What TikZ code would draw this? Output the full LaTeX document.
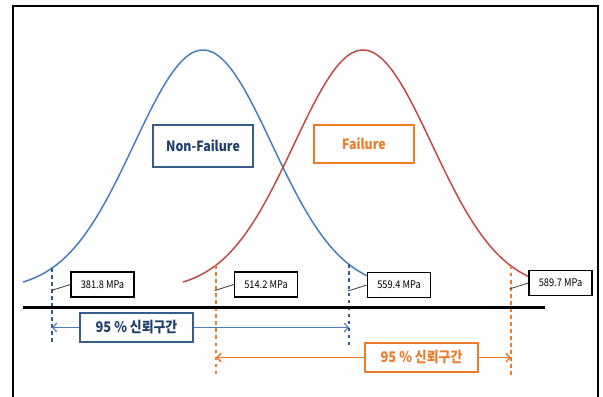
\documentclass[tikz,border=0pt]{standalone}
\usepackage{fontspec}
\setmainfont{Noto Sans CJK KR}[FakeStretch=0.88]
\usetikzlibrary{arrows.meta}
\definecolor{curveblue}{HTML}{4A7EBB}
\definecolor{curvered}{HTML}{BE4B48}
\definecolor{navy}{HTML}{1F3F6E}
\definecolor{boxblue}{HTML}{385D8A}
\definecolor{cutblue}{HTML}{2F5B96}
\definecolor{ciorange}{HTML}{EE7B2A}
% height of a bell curve with peak at #2, at position #1
\newcommand\bellat[2]{290-240*exp(-((#1-#2)/10)*((#1-#2)/10)/95.22)}

\begin{document}
\begin{tikzpicture}[x=0.3mm,y=-0.3mm,>={Straight Barb[length=1.2mm,width=2.6mm]},
  curve/.style={line width=0.45mm,smooth,samples=90},
  mpa/.style={draw,line width=0.4mm,fill=white,inner sep=0pt,
    minimum width=18.9mm,minimum height=7.5mm,font=\fontsize{9}{10}\selectfont},
  leader/.style={draw=black!75,line width=0.25mm},
  cut/.style={dashed,line width=0.4mm},
  title/.style={draw,line width=0.5mm,fill=white,minimum width=30mm,
    font=\bfseries\fontsize{12}{14}\selectfont},
  tag/.style={draw,line width=0.5mm,fill=white,minimum width=33.9mm,
    minimum height=8.7mm,font=\bfseries\fontsize{12.5}{14}\selectfont}]
\useasboundingbox (0,0) rectangle (603,397);
\draw[line width=0.7mm] (13,397) -- (13,6) -- (598,6) -- (598,397);

% the two bell curves
\draw[curve,curveblue,domain=-18:16.5] plot ({203+10*\x},{290-240*exp(-\x*\x/95.22)});
\draw[curve,curvered,domain=-18:16.6] plot ({363+10*\x},{290-240*exp(-\x*\x/95.22)});

\node[title,draw=boxblue,text=navy,minimum height=12.6mm] (nonfail) at (203,146) {Non-Failure};
\node[title,draw=ciorange,text=ciorange,minimum height=11.4mm] (fail) at (364,144) {Failure};

% bounds of the intervals
\coordinate (nL) at (52,{\bellat{52}{203}});
\coordinate (nR) at (349,{\bellat{349}{203}});
\coordinate (fL) at (216,{\bellat{216}{363}});
\coordinate (fR) at (511,{\bellat{511}{363}});
\coordinate (nLb) at (52,345);
\coordinate (nRb) at (349,345);
\coordinate (fLb) at (216,377);
\coordinate (fRb) at (511,377);
\draw[cut,cutblue] (nL) -- (nLb);
\draw[cut,cutblue] (nR) -- (nRb);
\draw[cut,ciorange] (fL) -- (fLb);
\draw[cut,ciorange] (fR) -- (fRb);

\node[mpa] (v1) at (102.5,284.5) {381.8 MPa};
\node[mpa] (v2) at (266,284.5) {514.2 MPa};
\node[mpa] (v3) at (399,285) {559.4 MPa};
\node[mpa] (v4) at (560.5,283) {589.7 MPa};
\draw[leader] (v1.west) -- ++(-19,6);
\draw[leader] (v2.west) -- ++(-19,6);
\draw[leader] (v3.west) -- ++(-19,6);
\draw[leader] (v4.west) -- ++(-19,6);

\draw[line width=0.9mm] (23,307) -- (545,307);

% confidence intervals
\node[tag,draw=boxblue,text=navy] (ciN) at (136.5,327.5) {95 \% 신뢰구간};
\node[tag,draw=ciorange,text=ciorange] (ciF) at (421.5,357.5) {95 \% 신뢰구간};
\draw[->,curveblue,line width=0.35mm] (ciN) -- (nL |- ciN);
\draw[->,curveblue,line width=0.35mm] (ciN) -- (nR |- ciN);
\draw[->,ciorange,line width=0.45mm] (ciF) -- (fL |- ciF);
\draw[->,ciorange,line width=0.45mm] (ciF) -- (fR |- ciF);
\end{tikzpicture}
\end{document}
